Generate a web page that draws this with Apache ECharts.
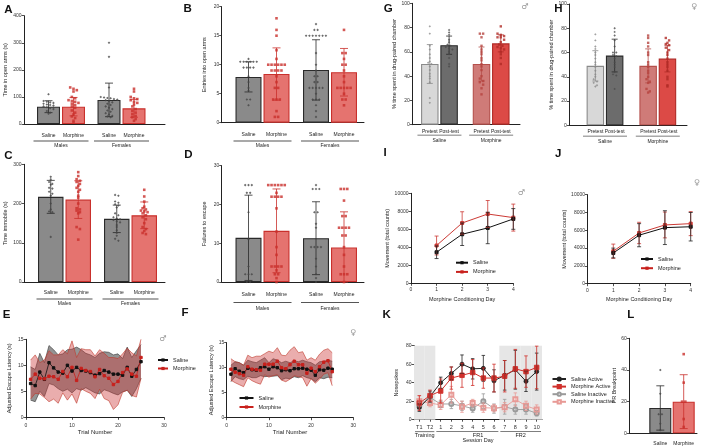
<!DOCTYPE html>
<html lang="en">
<head>
<meta charset="utf-8">
<title>Behaviour panels</title>
<script src="https://cdn.jsdelivr.net/npm/echarts@6.0.0/dist/echarts.min.js"></script>
<style>
    html, body { margin: 0; padding: 0; background: #fff; }
    #fig { width: 708px; height: 446px; }
</style>
</head>
<body>
<div id="fig"></div>
<script>
// ---------- categories and labels
var sexes = ['Males', 'Females'];
var treatments = ['Saline', 'Morphine'];
var tests = ['Pretest', 'Post-test'];
var trials = [1, 2, 3, 4, 5, 6, 7, 8, 9, 10, 11, 12, 13, 14, 15, 16, 17, 18, 19, 20, 21, 22, 23, 24, 25];
var days = [1, 2, 3, 4];
var kSessions = ['T1', 'T2', '1', '2', '3', '4', '5', '6', '7', '8', '9', '10'];
var kPhases = ['Training', 'Training', 'FR1', 'FR1', 'FR1', 'FR1', 'FR1', 'FR1', 'FR2', 'FR2', 'FR2', 'FR2'];
var kShaded = ['Training', 'FR2'];

// ---------- A: time in open arms (males, females)
var aSalMean = [64, 89];
var aSalSd = [22, 62];
var aMorMean = [64, 58];
var aMorSd = [34, 33];
var aSalDots = [[110, 85, 82, 80, 78, 75, 72, 70, 68, 65, 62, 58, 55, 48, 42, 38],
    [300, 248, 135, 100, 98, 96, 95, 92, 90, 88, 85, 80, 75, 70, 65, 60, 55, 50, 45, 40, 35, 30, 28, 25]];
var aMorDots = [[135, 130, 125, 120, 100, 95, 88, 85, 82, 78, 75, 70, 65, 60, 50, 42, 35, 28, 22, 12, 5],
    [130, 120, 100, 95, 92, 88, 82, 78, 72, 65, 55, 48, 42, 36, 30, 25, 18, 12]];

// ---------- B: entries into open arms
var bSalMean = [7.9, 9.1];
var bSalSd = [2.6, 5.2];
var bMorMean = [8.4, 8.7];
var bMorSd = [4.5, 4.1];
var bSalDots = [[11, 10.5, 10.5, 10.5, 10.5, 10.5, 10.5, 9.5, 9.5, 9.5, 9.5, 8, 7, 6, 5.5, 4, 4, 3],
    [17, 16, 16, 15, 15, 15, 15, 15, 15, 15, 12, 10, 9, 8, 8, 7, 7, 6, 6, 6, 6, 6, 5, 4, 4, 4, 3, 2, 1]];
var bMorDots = [[18, 16, 15, 12.5, 11, 10, 10, 10, 10, 10, 10, 9, 9, 9, 9, 8, 7, 6, 6, 4, 4, 4, 2, 1, 1],
    [16, 12, 12, 11, 10, 10, 9, 8, 7, 6, 6, 6, 6, 6, 5, 4, 4, 3]];

// ---------- C: time immobile
var cSalMean = [217, 161];
var cSalSd = [42, 35];
var cMorMean = [210, 170];
var cMorSd = [48, 34];
var cSalDots = [[268, 262, 255, 250, 248, 240, 238, 230, 225, 220, 200, 185, 180, 178, 115],
    [222, 220, 205, 202, 198, 195, 190, 175, 170, 165, 162, 160, 158, 155, 152, 145, 140, 132, 125, 118, 110, 105]];
var cMorDots = [[280, 270, 262, 258, 255, 250, 245, 240, 235, 230, 220, 215, 200, 188, 185, 182, 178, 175, 140, 135, 108],
    [235, 218, 205, 192, 188, 185, 182, 180, 178, 175, 170, 165, 160, 150, 140, 135, 130, 125, 122]];

// ---------- D: failures to escape
var dSalMean = [11.4, 11.3];
var dSalSd = [11, 9.4];
var dMorMean = [13.2, 8.9];
var dMorSd = [10.8, 9.2];
var dSalDots = [[25, 25, 25, 23, 23, 18, 11, 4, 2, 2, 2, 0, 0],
    [25, 24, 24, 24, 18, 18, 15, 14, 9, 9, 9, 9, 6, 4, 2, 1, 0]];
var dMorDots = [[25, 25, 25, 25, 25, 25, 23, 22, 22, 22, 22, 19, 13, 9, 7, 4, 4, 4, 4, 3, 2, 2, 1, 0],
    [24, 24, 24, 21, 17, 17, 14, 14, 14, 14, 12, 12, 9, 7, 4, 2, 2, 2, 0]];

// ---------- E: escape latency, males
var eSalMean = [6.5, 6.1, 8.7, 7.3, 10.5, 9.5, 8.7, 8.5, 10, 8.9, 9.6, 9, 8.9, 8.6, 8.1, 8.4, 9, 8.7, 8.3, 8.3, 8.1, 9.6, 7.9, 9.2, 10.7];
var eSalHi = [9.7, 9.2, 12.3, 10.5, 13.8, 13, 12, 12.2, 13, 13.1, 13.5, 13, 12.3, 12, 11.5, 12.3, 12.6, 12.5, 12, 12.2, 11.3, 13.5, 11.5, 12.8, 14];
var eSalLo = [3.3, 3, 5, 4, 6.5, 6.2, 5.5, 5, 5.4, 4.7, 5.5, 5.2, 5.7, 5.2, 4.7, 4.5, 5.3, 5, 4.6, 4.3, 4.9, 5.2, 4, 5.5, 7.5];
var eMorMean = [7.3, 8.3, 7.5, 7.4, 7.9, 7.8, 7.3, 8.8, 7.8, 9.6, 7.1, 9.4, 9, 8.8, 7.8, 9.2, 8, 7.5, 6.3, 6.9, 8.6, 9.3, 8.3, 7.9, 11.5];
var eMorHi = [11, 12, 10.5, 11, 12.8, 12, 12, 13, 12.2, 14.7, 11.5, 13.2, 13, 13, 11.8, 13, 12.3, 11.5, 11.5, 11.3, 12.2, 13.3, 12.4, 11.8, 15];
var eMorLo = [3.5, 4.6, 4.5, 3.8, 3, 3.5, 2.7, 4.7, 3.3, 4.5, 2.7, 5.5, 5, 4.6, 3.6, 5.4, 3.6, 3.2, 1.5, 2.4, 4.8, 5.2, 4.2, 3.9, 7.5];

// ---------- F: escape latency, females
var fSalMean = [8.7, 9.8, 9.3, 9, 9.9, 9.6, 9.5, 10, 10.2, 9.7, 10.2, 10, 9.4, 9.6, 9.4, 9.8, 9.8, 9.9, 9.7, 9.5, 8.5, 9.6, 9.5, 9.9, 9.7];
var fSalHi = [10.5, 11.2, 11, 10.5, 11.5, 11.2, 11, 11.5, 12, 11, 11.8, 11.5, 11, 11.3, 11, 11.4, 11.2, 11.5, 11.2, 11, 10.5, 11.2, 11.3, 11.5, 11.3];
var fSalLo = [7.2, 8.2, 7.8, 7.6, 8.3, 8, 8, 8.4, 8.2, 8.3, 8.3, 8.4, 7.6, 7.9, 7.8, 8.2, 8, 8.4, 8, 7.8, 7.2, 8, 7.8, 8.1, 8];
var fMorMean = [9.7, 9.1, 8.8, 8.5, 10.2, 9.7, 9.6, 9.5, 10.7, 10.7, 10.7, 11.3, 10, 9.8, 10.6, 11.3, 10.6, 10.6, 8.9, 9.9, 9.2, 10.2, 11.1, 11.4, 9.2];
var fMorHi = [11.8, 11.2, 11, 10.5, 12.5, 12, 12.3, 12.3, 12.8, 13.3, 13, 14, 12.5, 12.4, 13.5, 14.2, 13, 13.2, 11.5, 12, 11.5, 12.7, 13.5, 13.8, 13];
var fMorLo = [7.5, 7, 6.6, 6.2, 8, 7.4, 7, 6.7, 8.6, 8.1, 8.4, 8.6, 7.5, 7.2, 7.7, 8.4, 8.2, 8, 6.3, 7.8, 6.9, 7.7, 8.7, 9, 6.4];

// ---------- G / H: % time in drug-paired chamber (saline, morphine)
var gPreMean = [50, 50];
var gPreSd = [16, 14];
var gPostMean = [65.5, 67];
var gPostSd = [7.5, 7];
var gPreDots = [[81, 75, 65, 62, 58, 55, 52, 51, 50, 48, 45, 42, 40, 38, 35, 22, 18],
    [75, 75, 72, 65, 62, 60, 58, 55, 53, 50, 48, 45, 40, 38, 36, 35, 33, 30, 25]];
var gPostDots = [[78, 76, 74, 70, 68, 66, 65, 64, 63, 62, 60, 58, 55, 50, 48],
    [81, 75, 74, 73, 72, 72, 70, 68, 66, 65, 64, 63, 62, 60, 58, 55, 50]];
var hPreMean = [49, 49];
var hPreSd = [12.5, 14];
var hPostMean = [57.5, 55];
var hPostSd = [13.5, 11];
var hPreDots = [[75, 70, 65, 63, 60, 58, 55, 52, 50, 48, 45, 42, 40, 38, 36, 35, 33, 32],
    [74, 72, 68, 65, 60, 58, 52, 50, 48, 45, 43, 40, 38, 36, 35, 30, 28, 27]];
var hPostDots = [[80, 77, 74, 70, 65, 60, 60, 58, 57, 55, 52, 50, 48, 44, 42, 41, 30],
    [72, 70, 68, 67, 66, 64, 62, 60, 58, 55, 52, 50, 48, 45, 40, 38, 33, 32]];

// ---------- I / J: movement per conditioning day
var iSalMean = [3450, 5450, 6150, 7150];
var iSalSd = [700, 1250, 1750, 1150];
var iMorMean = [4200, 6700, 7700, 7300];
var iMorSd = [1050, 1250, 1500, 1500];
var jSalMean = [3450, 5450, 6300, 6400];
var jSalSd = [550, 1300, 1900, 1600];
var jMorMean = [3650, 5700, 6600, 6750];
var jMorSd = [800, 1200, 1450, 1350];

// ---------- K: nosepokes
var kSalAct = [13, 25, 40, 50, 60, 55, 55.5, 42, 48, 54, 41.5, 52];
var kSalActSd = [4, 6, 6, 7, 10, 11, 14, 12, 16, 21, 11, 20];
var kMorAct = [18, 26, 31, 45, 48, 51, 45, 45, 47, 55, 52, 56.5];
var kMorActSd = [8, 6, 13, 12, 13, 14, 11, 15, 17, 21, 17, 23];
var kSalIn = [15, 24, 17, 17, 15, 12, 20, 12, 14, 11, 11, 7];
var kSalInSd = [4, 6, 4, 5, 5, 4, 8, 5, 8, 5, 5, 3];
var kMorIn = [20, 18, 16, 27, 14, 18, 13, 12.5, 13.5, 22, 15, 11];
var kMorInSd = [6, 4, 5, 9, 6, 4, 5, 4, 5, 7, 5, 5];

// ---------- L: PR breakpoint
var lMean = [16, 20];
var lSd = [14, 17];
var lDots = [[40, 25, 12, 12, 6, 2], [50, 32, 20, 20, 9, 4]];

// ---------- styles
var FONT = 'Liberation Sans';
var INK = '#222';
var SAL_FILL = '#8a8a8a', SAL_EDGE = '#2a2a2a', SAL_DOT = '#454545';
var MOR_FILL = '#e5736f', MOR_EDGE = '#c9302c', MOR_DOT = '#c9302c';

var grids = [], xAxes = [], yAxes = [], series = [], legends = [], graphics = [];

function pick(c, i) { return Array.isArray(c) ? c[i] : c; }

function addGrid(left, top, width, height) {
    grids.push({left: left, top: top, width: width, height: height, outerBoundsMode: 'none'});
    return grids.length - 1;
}

function push(list, item) { list.push(item); return list.length - 1; }

function tickLabel(margin) {
    return {fontSize: 5, color: '#333', margin: margin, fontFamily: FONT};
}

function valueAxis(gi, min, max, step, name, gap, extra) {
    var ax = {
        type: 'value', gridIndex: gi, min: min, max: max, interval: step,
        name: name, nameLocation: 'middle', nameGap: gap,
        nameTextStyle: {fontSize: 5.5, color: INK, fontFamily: FONT},
        axisLine: {show: true, onZero: false, lineStyle: {color: INK, width: 1}},
        axisTick: {show: true, length: 2.5, lineStyle: {color: INK, width: 0.8}},
        axisLabel: tickLabel(2.5),
        splitLine: {show: false}
    };
    return Object.assign(ax, extra || {});
}

function errorSeries(xi, yi, xs, means, sds, colors, dx, cap, lw, floor) {
    return {
        type: 'custom', xAxisIndex: xi, yAxisIndex: yi, z: 4, silent: true,
        data: means.map(function (m, i) { return [xs ? xs[i] : i, m, sds[i], i]; }),
        renderItem: function (params, api) {
            var x = api.value(0), m = api.value(1), s = api.value(2), i = api.value(3);
            var lo = m - s;
            if (floor != null && lo < floor) lo = floor;
            var a = api.coord([x, m + s]), b = api.coord([x, lo]);
            var px = a[0] + dx, col = pick(colors, i);
            function seg(x1, y1, x2, y2) {
                return {type: 'line', shape: {x1: x1, y1: y1, x2: x2, y2: y2}, style: {stroke: col, lineWidth: lw}};
            }
            return {type: 'group', children: [
                seg(px, a[1], px, b[1]),
                seg(px - cap / 2, a[1], px + cap / 2, a[1]),
                seg(px - cap / 2, b[1], px + cap / 2, b[1])
            ]};
        }
    };
}

// dots spread sideways when they share a row
function dotSeries(xi, yi, dots, colors, symbols, size, dx, pxPerUnit) {
    var data = [];
    dots.forEach(function (vals, ci) {
        var rows = {};
        vals.forEach(function (v) {
            var k = Math.round(v * pxPerUnit / 3.2);
            (rows[k] = rows[k] || []).push(v);
        });
        Object.keys(rows).forEach(function (k) {
            var row = rows[k];
            row.forEach(function (v, j) {
                data.push({
                    value: [ci, v], symbol: pick(symbols, ci),
                    symbolOffset: [dx + (j - (row.length - 1) / 2) * 3.3, 0],
                    itemStyle: {color: pick(colors, ci)}
                });
            });
        });
    });
    return {type: 'scatter', xAxisIndex: xi, yAxisIndex: yi, symbolSize: size, data: data, z: 5, silent: true};
}

function groupLabel(subs, subW, lab) {
    return {
        interval: 0, margin: lab.margin,
        formatter: function (v) {
            return subs.map(function (s) { return '{s|' + s + '}'; }).join('') + '\n{l| }\n{g|' + v + '}';
        },
        rich: {
            s: {width: subW, align: 'center', fontSize: 5, lineHeight: lab.subLH, color: INK, fontFamily: FONT},
            l: {width: lab.lineW, height: 0.8, lineHeight: lab.lineLH, backgroundColor: '#555', fontSize: 1},
            g: {fontSize: 5, lineHeight: lab.groupLH, color: INK, fontFamily: FONT}
        }
    };
}

function barPanel(p) {
    var f = p.frame;
    var gf = addGrid(f.left, f.top, f.width, f.height);
    push(xAxes, {type: 'value', gridIndex: gf, min: 0, max: 1,
        axisLine: {show: true, onZero: false, lineStyle: {color: INK, width: 1}},
        axisTick: {show: false}, axisLabel: {show: false}, splitLine: {show: false}});
    push(yAxes, valueAxis(gf, p.yMin, p.yMax, p.yInt, p.yName, p.nameGap));

    var n = p.sets.length;
    var gb = addGrid(p.barLeft, f.top, p.barSpan, f.height);
    var xb = push(xAxes, {type: 'category', gridIndex: gb, data: p.cats,
        axisLine: {show: false}, axisTick: {show: false}, splitLine: {show: false},
        axisLabel: n > 1 ? groupLabel(p.subs, p.bw + p.gap, p.label)
            : {interval: 0, fontSize: 5, color: INK, margin: p.label.margin, fontFamily: FONT}});
    var yb = push(yAxes, {type: 'value', gridIndex: gb, min: p.yMin, max: p.yMax, show: false});
    var ppu = f.height / (p.yMax - p.yMin);

    p.sets.forEach(function (s, si) {
        var dx = (si - (n - 1) / 2) * (p.bw + p.gap);
        series.push({
            type: 'bar', name: p.id + ' ' + s.name, xAxisIndex: xb, yAxisIndex: yb,
            barWidth: p.bw, barGap: (100 * p.gap / p.bw) + '%', silent: true, z: 2,
            data: s.mean.map(function (m, ci) {
                return {value: m, itemStyle: {color: pick(s.fill, ci), borderColor: pick(s.edge, ci), borderWidth: 1.1}};
            })
        });
        series.push(errorSeries(xb, yb, null, s.mean, s.sd, s.edge, dx, p.cap, 0.8, p.yMin));
        series.push(dotSeries(xb, yb, s.dots, s.dot, s.sym, p.dotSize, dx, ppu));
    });
}

// shaded spread between a lower and an upper curve, outlined on both edges
function bandSeries(xi, yi, lo, hi, fill, edge) {
    return {
        type: 'custom', xAxisIndex: xi, yAxisIndex: yi, z: 1, silent: true,
        data: trials.map(function (t, i) { return [t, lo[i], hi[i]]; }),
        encode: {x: 0, y: [1, 2]},
        renderItem: function (params, api) {
            if (params.dataIndex !== 0) return null;
            var top = trials.map(function (t, i) { return api.coord([t, hi[i]]); });
            var bot = trials.map(function (t, i) { return api.coord([t, lo[i]]); });
            return {type: 'group', children: [
                {type: 'polygon', shape: {points: top.concat(bot.slice().reverse())}, style: {fill: fill}},
                {type: 'polyline', shape: {points: top}, style: {stroke: edge, lineWidth: 0.6, fill: null}},
                {type: 'polyline', shape: {points: bot}, style: {stroke: edge, lineWidth: 0.6, fill: null}}
            ]};
        }
    };
}

function meanLine(xi, yi, name, xs, ys, color, symbol, size, lw) {
    return {type: 'line', name: name, xAxisIndex: xi, yAxisIndex: yi, z: 3, silent: true,
        data: xs.map(function (x, i) { return [x, ys[i]]; }),
        symbol: symbol, symbolSize: size, showAllSymbol: true,
        itemStyle: {color: color, borderColor: color}, lineStyle: {color: color, width: lw}};
}

function bandPanel(p) {
    var g = addGrid(p.left, p.top, p.width, p.height);
    var xi = push(xAxes, valueAxis(g, 0, 30, 10, 'Trial Number', p.xNameGap, {
        nameTextStyle: {fontSize: 6, color: INK, fontFamily: FONT}, axisLabel: tickLabel(p.xMargin)}));
    var yi = push(yAxes, valueAxis(g, 0, 15, 5, 'Adjusted Escape Latency (s)', p.nameGap));
    series.push(bandSeries(xi, yi, p.salLo, p.salHi, 'rgba(60,60,60,0.55)', '#333'));
    series.push(bandSeries(xi, yi, p.morLo, p.morHi, 'rgba(205,60,60,0.42)', '#c0392b'));
    series.push(meanLine(xi, yi, 'Saline', trials, p.salMean, '#111', 'rect', 2.4, 0.8));
    series.push(meanLine(xi, yi, 'Morphine', trials, p.morMean, '#c8201c', 'rect', 2.4, 0.8));
    legends.push({orient: 'vertical', left: p.legLeft, top: p.legTop, padding: 0, itemWidth: p.legW, itemHeight: 4,
        itemGap: p.legGap, textStyle: {fontSize: 5.5, color: INK, fontFamily: FONT, lineHeight: 8}, data: ['Saline', 'Morphine']});
}

function movePanel(p) {
    var g = addGrid(p.left, p.top, p.width, p.height);
    var xi = push(xAxes, valueAxis(g, 0, 4, 1, 'Morphine Conditioning Day', 13, {axisLabel: tickLabel(4)}));
    var yi = push(yAxes, valueAxis(g, 0, 10000, 2000, 'Movement (total counts)', p.nameGap, {
        axisLabel: Object.assign(tickLabel(2.5), {formatter: function (v) { return String(v); }})}));
    series.push(errorSeries(xi, yi, days, p.morMean, p.morSd, '#cc3a35', 0, 4, 0.8));
    series.push(errorSeries(xi, yi, days, p.salMean, p.salSd, '#222', 0, 4, 0.8));
    series.push(meanLine(xi, yi, 'Morphine', days, p.morMean, '#cc3a35', 'rect', 3, 1));
    series.push(meanLine(xi, yi, 'Saline', days, p.salMean, '#111', 'rect', 3, 1));
    legends.push({orient: 'vertical', left: p.legLeft, top: p.legTop, padding: 0, itemWidth: 12, itemHeight: 4,
        itemGap: 1.2, textStyle: {fontSize: 5.5, color: INK, fontFamily: FONT, lineHeight: 8}, data: ['Saline', 'Morphine']});
}

// ---------- panels A-D
barPanel({id: 'A', frame: {left: 24, top: 15.7, width: 141, height: 108.3}, barLeft: 30.75, barSpan: 121,
    yMin: 0, yMax: 400, yInt: 100, yName: 'Time in open arms (s)', nameGap: 16,
    cats: sexes, subs: treatments, bw: 23, gap: 2, cap: 8, dotSize: 2.6,
    label: {margin: 8.5, subLH: 7, lineLH: 3, groupLH: 7, lineW: 55},
    sets: [{name: 'Saline', mean: aSalMean, sd: aSalSd, dots: aSalDots, fill: SAL_FILL, edge: SAL_EDGE, dot: SAL_DOT, sym: 'diamond'},
        {name: 'Morphine', mean: aMorMean, sd: aMorSd, dots: aMorDots, fill: MOR_FILL, edge: MOR_EDGE, dot: MOR_DOT, sym: 'rect'}]});
barPanel({id: 'B', frame: {left: 221.7, top: 6.7, width: 142.3, height: 116}, barLeft: 228.75, barSpan: 135,
    yMin: 0, yMax: 20, yInt: 5, yName: 'Entries into open arms', nameGap: 14,
    cats: sexes, subs: treatments, bw: 26, gap: 2, cap: 8, dotSize: 2.6,
    label: {margin: 8.8, subLH: 7, lineLH: 5, groupLH: 5, lineW: 58},
    sets: [{name: 'Saline', mean: bSalMean, sd: bSalSd, dots: bSalDots, fill: SAL_FILL, edge: SAL_EDGE, dot: SAL_DOT, sym: 'diamond'},
        {name: 'Morphine', mean: bMorMean, sd: bMorSd, dots: bMorDots, fill: MOR_FILL, edge: MOR_EDGE, dot: MOR_DOT, sym: 'rect'}]});
barPanel({id: 'C', frame: {left: 24, top: 164.3, width: 141, height: 117.7}, barLeft: 31.5, barSpan: 132,
    yMin: 0, yMax: 300, yInt: 100, yName: 'Time immobile (s)', nameGap: 16,
    cats: sexes, subs: treatments, bw: 25.5, gap: 2, cap: 8, dotSize: 2.6,
    label: {margin: 7, subLH: 7, lineLH: 6, groupLH: 4, lineW: 56},
    sets: [{name: 'Saline', mean: cSalMean, sd: cSalSd, dots: cSalDots, fill: SAL_FILL, edge: SAL_EDGE, dot: SAL_DOT, sym: 'diamond'},
        {name: 'Morphine', mean: cMorMean, sd: cMorSd, dots: cMorDots, fill: MOR_FILL, edge: MOR_EDGE, dot: MOR_DOT, sym: 'rect'}]});
barPanel({id: 'D', frame: {left: 221.7, top: 165.7, width: 142.3, height: 116.3}, barLeft: 228.75, barSpan: 135,
    yMin: 0, yMax: 30, yInt: 10, yName: 'Failures to escape', nameGap: 14,
    cats: sexes, subs: treatments, bw: 26, gap: 2, cap: 8, dotSize: 2.6,
    label: {margin: 9.5, subLH: 7, lineLH: 8, groupLH: 4, lineW: 58},
    sets: [{name: 'Saline', mean: dSalMean, sd: dSalSd, dots: dSalDots, fill: SAL_FILL, edge: SAL_EDGE, dot: SAL_DOT, sym: 'diamond'},
        {name: 'Morphine', mean: dMorMean, sd: dMorSd, dots: dMorDots, fill: MOR_FILL, edge: MOR_EDGE, dot: MOR_DOT, sym: 'rect'}]});

// ---------- panels G, H (conditioned place preference)
var preFill = ['#d8d8d8', '#cf7b78'], preEdge = ['#8a8a8a', '#b5504c'], preDot = ['#8a8a8a', '#b5443f'];
var postFill = ['#6c6c6c', '#dc4a46'], postEdge = ['#2a2a2a', '#b02a26'], postDot = ['#4a4a4a', '#b02a26'];
barPanel({id: 'G', frame: {left: 412.3, top: 3.3, width: 107.7, height: 121.4}, barLeft: 413.6, barSpan: 103.4,
    yMin: 0, yMax: 100, yInt: 20, yName: '% time spent in drug-paired chamber', nameGap: 14,
    cats: treatments, subs: tests, bw: 17.5, gap: 1.8, cap: 6, dotSize: 2.4,
    label: {margin: 3.5, subLH: 6, lineLH: 2, groupLH: 9, lineW: 44},
    sets: [{name: 'Pretest', mean: gPreMean, sd: gPreSd, dots: gPreDots, fill: preFill, edge: preEdge, dot: preDot, sym: ['diamond', 'rect']},
        {name: 'Post-test', mean: gPostMean, sd: gPostSd, dots: gPostDots, fill: postFill, edge: postEdge, dot: postDot, sym: ['diamond', 'rect']}]});
barPanel({id: 'H', frame: {left: 569.3, top: 4, width: 117.7, height: 121.3}, barLeft: 578.6, barSpan: 105.6,
    yMin: 0, yMax: 100, yInt: 20, yName: '% time spent in drug-paired chamber', nameGap: 10,
    cats: treatments, subs: tests, bw: 17.5, gap: 1.8, cap: 6, dotSize: 2.4,
    label: {margin: 3.8, subLH: 6, lineLH: 2, groupLH: 9, lineW: 44},
    sets: [{name: 'Pretest', mean: hPreMean, sd: hPreSd, dots: hPreDots, fill: preFill, edge: preEdge, dot: preDot, sym: ['diamond', 'rect']},
        {name: 'Post-test', mean: hPostMean, sd: hPostSd, dots: hPostDots, fill: postFill, edge: postEdge, dot: postDot, sym: ['diamond', 'rect']}]});

// ---------- panel L
barPanel({id: 'L', frame: {left: 629.3, top: 338.3, width: 67.7, height: 95}, barLeft: 648.6, barSpan: 46.8,
    yMin: 0, yMax: 60, yInt: 20, yName: 'PR Breakpoint', nameGap: 9,
    cats: treatments, bw: 22, gap: 0, cap: 8, dotSize: 2.6, label: {margin: 8},
    sets: [{name: 'PR', mean: lMean, sd: lSd, dots: lDots, fill: [SAL_FILL, MOR_FILL], edge: [SAL_EDGE, MOR_EDGE],
        dot: [SAL_DOT, MOR_DOT], sym: ['diamond', 'rect']}]});

// ---------- panels E, F
bandPanel({left: 26, top: 339.3, width: 138, height: 78, nameGap: 14, xNameGap: 8.5, xMargin: 6,
    salMean: eSalMean, salLo: eSalLo, salHi: eSalHi, morMean: eMorMean, morLo: eMorLo, morHi: eMorHi,
    legLeft: 157, legTop: 356, legW: 10, legGap: 0.5});
bandPanel({left: 226.7, top: 342.7, width: 126.6, height: 75, nameGap: 10.5, xNameGap: 12, xMargin: 5.5,
    salMean: fSalMean, salLo: fSalLo, salHi: fSalHi, morMean: fMorMean, morLo: fMorLo, morHi: fMorHi,
    legLeft: 238.5, legTop: 394, legW: 14, legGap: 1});

// ---------- panels I, J
movePanel({left: 411, top: 193.3, width: 102.3, height: 90, nameGap: 18, legLeft: 455, legTop: 258.7,
    salMean: iSalMean, salSd: iSalSd, morMean: iMorMean, morSd: iMorSd});
movePanel({left: 587.5, top: 194.7, width: 103.2, height: 89, nameGap: 16, legLeft: 640, legTop: 255,
    salMean: jSalMean, salSd: jSalSd, morMean: jMorMean, morSd: jMorSd});

// ---------- panel K
(function () {
    var left = 414, width = 128;
    var g = addGrid(left, 345.7, width, 74);
    var xi = push(xAxes, {type: 'category', gridIndex: g, data: kSessions,
        axisLine: {show: true, onZero: false, lineStyle: {color: INK, width: 1}},
        axisTick: {show: true, alignWithLabel: true, length: 2, lineStyle: {color: INK, width: 0.8}},
        axisLabel: Object.assign(tickLabel(5), {interval: 0, fontSize: 5.5}), splitLine: {show: false}});
    var yi = push(yAxes, valueAxis(g, 0, 80, 20, 'Nosepokes', 15));

    // phase spans under the session labels
    var phases = [], start = {}, count = {};
    kPhases.forEach(function (p, i) {
        if (!(p in start)) { start[p] = i; count[p] = 0; phases.push(p); }
        count[p]++;
    });
    var catW = width / kSessions.length;
    var centers = phases.map(function (p) { return start[p] + count[p] / 2; });
    var lineRich = {};
    phases.forEach(function (p, i) {
        lineRich['l' + i] = {width: count[p] * catW - 2, height: 0.8, lineHeight: 2, backgroundColor: '#555', fontSize: 1};
    });
    push(xAxes, {type: 'value', gridIndex: g, min: 0, max: kSessions.length, position: 'bottom',
        axisLine: {show: false}, axisTick: {show: false}, splitLine: {show: false},
        axisLabel: {customValues: centers, margin: 11, rich: lineRich,
            formatter: function (v) { return '{l' + centers.indexOf(v) + '| }'; }}});
    // the longest phase sits under the axis title, which is centred on the axis
    var longest = phases.reduce(function (a, b) { return count[b] > count[a] ? b : a; });
    var textPos = phases.map(function (p, i) { return p === longest ? kSessions.length / 2 : centers[i]; });
    push(xAxes, {type: 'value', gridIndex: g, min: 0, max: kSessions.length, position: 'bottom',
        axisLine: {show: false}, axisTick: {show: false}, splitLine: {show: false},
        axisLabel: {customValues: textPos, margin: 12.6, fontSize: 5.5, color: INK, lineHeight: 5.4, fontFamily: FONT,
            formatter: function (v) {
                var p = phases[textPos.indexOf(v)];
                return p === longest ? p + '\nSession Day' : p;
            }}});

    series.push({type: 'bar', name: 'K shade', xAxisIndex: xi, yAxisIndex: yi, barWidth: '100%', silent: true, z: 0,
        data: kPhases.map(function (p) { return kShaded.indexOf(p) >= 0 ? 80 : '-'; }),
        itemStyle: {color: '#e6e6e6'}});

    var defs = [
        ['Saline Inactive', kSalIn, kSalInSd, '#9a9a9a', 'emptyCircle', 4, 0.9],
        ['Morphine Inactive', kMorIn, kMorInSd, '#e89a96', 'emptyRect', 4, 0.9],
        ['Saline Active', kSalAct, kSalActSd, '#222', 'circle', 4, 1],
        ['Morphine Active', kMorAct, kMorActSd, '#d0302b', 'rect', 4.5, 1]
    ];
    defs.forEach(function (d) {
        series.push(errorSeries(xi, yi, null, d[1], d[2], d[3], 0, 3.5, 0.8));
        series.push({type: 'line', name: d[0], xAxisIndex: xi, yAxisIndex: yi, z: 3, silent: true,
            data: d[1], symbol: d[4], symbolSize: d[5], showAllSymbol: true,
            itemStyle: {color: d[3], borderColor: d[3], borderWidth: 0.9}, lineStyle: {color: d[3], width: d[6]}});
    });
    legends.push({orient: 'vertical', left: 551.5, top: 375.5, padding: 0, itemWidth: 13.5, itemHeight: 4, itemGap: 0.6,
        textStyle: {fontSize: 5.5, color: INK, fontFamily: FONT, lineHeight: 7},
        data: ['Saline Active', 'Morphine Active', 'Saline Inactive', 'Morphine Inactive']});
})();

// ---------- panel letters and sex marks
function addText(x, y, txt, size, weight, color, family) {
    graphics.push({type: 'text', x: x, y: y, silent: true,
        style: {text: txt, fontSize: size, fontWeight: weight, fontFamily: family || FONT, fill: color,
            align: 'center', verticalAlign: 'middle'}});
}
[['A', 8.3, 10], ['B', 187.7, 8.5], ['C', 8.3, 156], ['D', 188.3, 155], ['E', 6.7, 315], ['F', 185, 313.3],
    ['G', 388.3, 8.5], ['H', 558.3, 8.5], ['I', 385, 153.3], ['J', 558.3, 154], ['K', 386.7, 315], ['L', 630.7, 315]
].forEach(function (t) { addText(t[1], t[2], t[0], 11.5, 'bold', '#111'); });
[['\u2642', 163, 339], ['\u2640', 353, 333], ['\u2642', 525, 7], ['\u2640', 694, 7], ['\u2642', 521.7, 193], ['\u2640', 696.7, 183]
].forEach(function (t) { addText(t[1], t[2], t[0], 8, 'normal', '#999', 'DejaVu Sans'); });

var chart = echarts.init(document.getElementById('fig'), null, {renderer: 'canvas'});
chart.setOption({
    animation: false,
    backgroundColor: '#fff',
    textStyle: {fontFamily: FONT},
    grid: grids,
    xAxis: xAxes,
    yAxis: yAxes,
    legend: legends,
    series: series,
    graphic: graphics
});
</script>
</body>
</html>
